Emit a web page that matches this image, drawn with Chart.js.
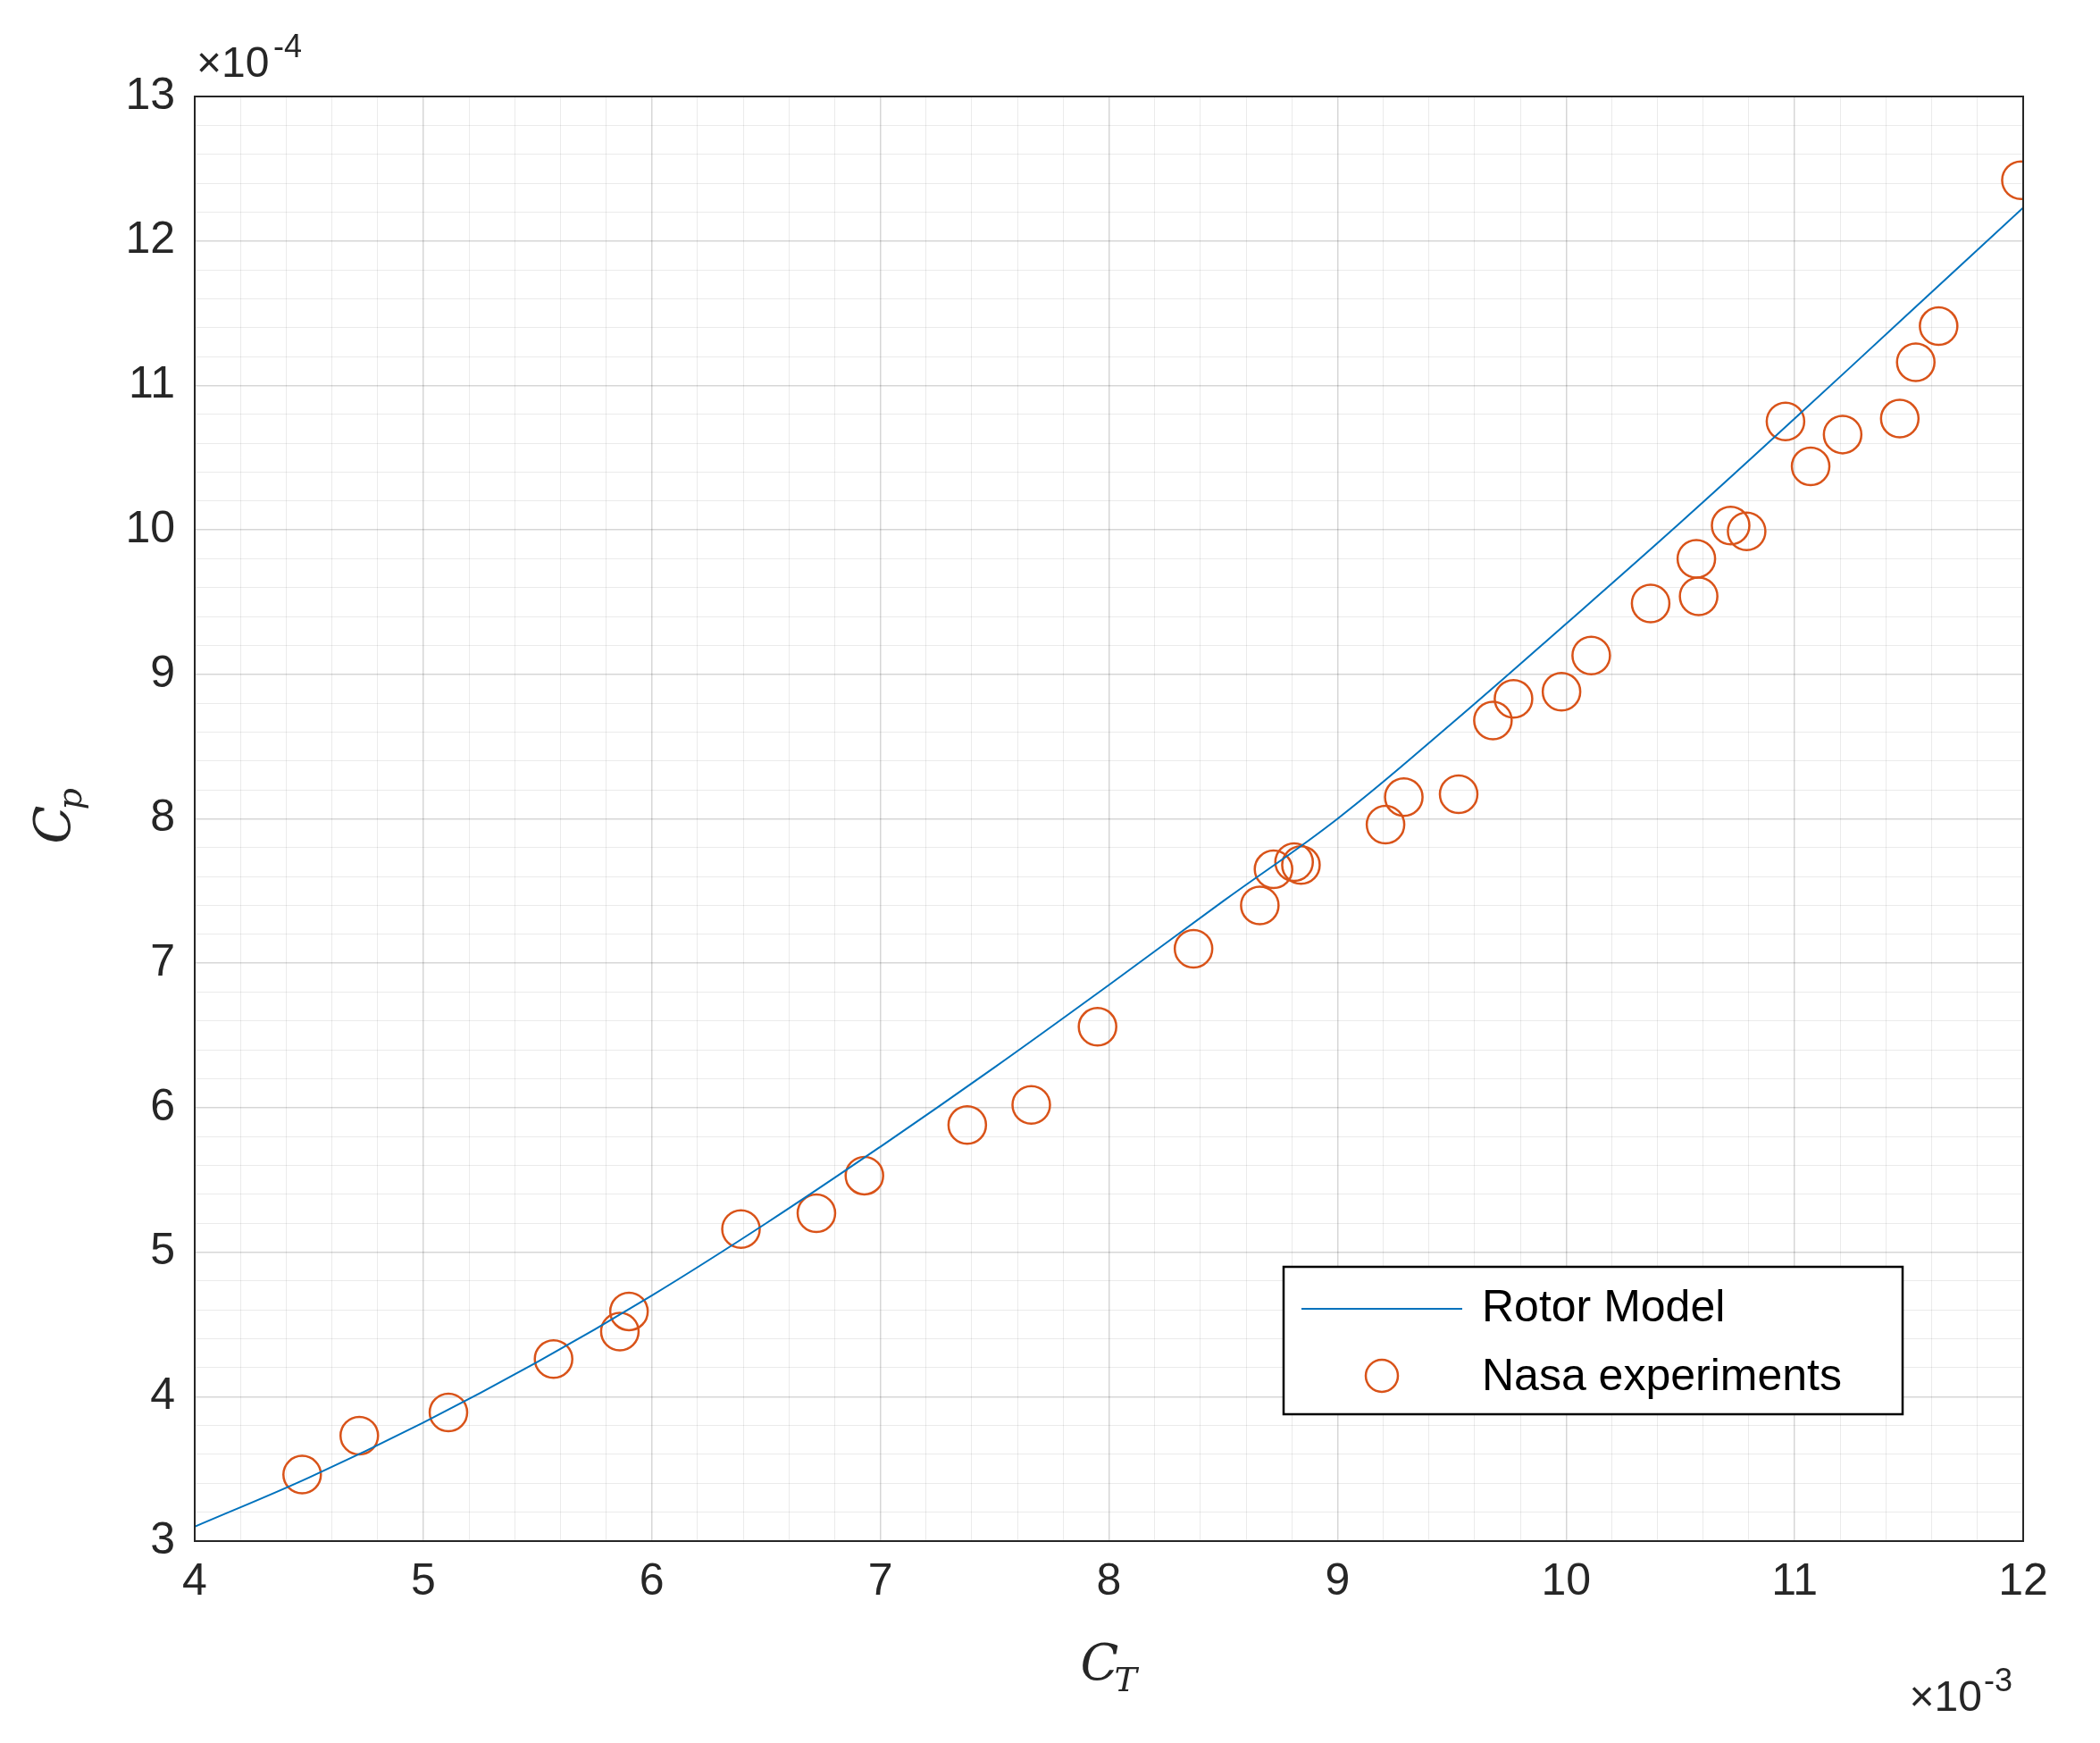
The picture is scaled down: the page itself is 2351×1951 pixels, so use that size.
<!DOCTYPE html>
<html><head><meta charset="utf-8">
<script src="https://cdn.jsdelivr.net/npm/chart.js@4/dist/chart.umd.min.js"></script>
<style>html,body{margin:0;background:#fff}#w{width:2351px;height:1951px}</style>
</head><body><div id="w"><canvas id="c"></canvas></div>
<script>
const modelCT=[4,4.5,5,5.5,6,6.5,7,7.5,8,8.5,9,9.5,10,10.5,11,11.5,12];
const modelCp=[3.10,3.44,3.82,4.24,4.70,5.20,5.73,6.28,6.85,7.43,8.00,8.66,9.35,10.05,10.77,11.50,12.23];
const expCT=[4.47,4.72,5.11,5.57,5.86,5.90,6.39,6.72,6.93,7.38,7.66,7.95,8.37,8.66,8.72,8.81,8.84,9.21,9.29,9.53,9.68,9.77,9.98,10.11,10.37,10.57,10.58,10.72,10.79,10.96,11.07,11.21,11.46,11.53,11.63,11.99];
const expCp=[3.46,3.73,3.89,4.26,4.45,4.59,5.16,5.27,5.53,5.88,6.02,6.56,7.10,7.40,7.65,7.70,7.68,7.96,8.15,8.17,8.68,8.83,8.88,9.13,9.49,9.80,9.54,10.03,9.99,10.75,10.44,10.66,10.77,11.16,11.41,12.42];
const seriesNames=['Rotor Model','Nasa experiments'];
const blue='#0072BD', red='#D95319', axc='#262626';
const isInt=v=>Math.abs(v-Math.round(v))<1e-6;
const deco={id:'deco',afterDraw(ch){
  const c=ch.ctx,a=ch.chartArea;c.save();
  c.strokeStyle=axc;c.lineWidth=2;c.strokeRect(a.left,a.top,a.right-a.left,a.bottom-a.top);
  c.fillStyle=axc;c.font='48px "Liberation Sans",Arial';
  c.textBaseline='alphabetic';c.textAlign='left';
  c.fillText('\u00d710',a.left+2,a.top-22);c.font='36px "Liberation Sans",Arial';c.fillText('-4',a.left+88,a.top-44);
  c.font='48px "Liberation Sans",Arial';c.textAlign='right';
  c.fillText('\u00d710',a.right-46,a.bottom+190);c.font='36px "Liberation Sans",Arial';c.textAlign='left';c.fillText('-3',a.right-44,a.bottom+168);
  c.font='italic 56px "DejaVu Serif",serif';c.textAlign='left';
  const cx=(a.left+a.right)/2;c.fillText('C',cx-32,a.bottom+155);c.font='italic 38px "DejaVu Serif",serif';c.fillText('T',cx+6,a.bottom+168);
  c.translate(78,(a.top+a.bottom)/2);c.rotate(-Math.PI/2);
  c.font='italic 56px "DejaVu Serif",serif';c.fillText('C',-28,0);c.font='italic 38px "DejaVu Serif",serif';c.fillText('p',10,13);
  c.setTransform(1,0,0,1,0,0);
  const lx=1437,ly=1418,lw=693,lh=165;
  c.fillStyle='#fff';c.fillRect(lx,ly,lw,lh);c.strokeStyle='#000';c.lineWidth=2.5;c.strokeRect(lx,ly,lw,lh);
  c.strokeStyle=blue;c.lineWidth=2;c.beginPath();c.moveTo(lx+20,ly+47);c.lineTo(lx+200,ly+47);c.stroke();
  c.strokeStyle=red;c.lineWidth=2.5;c.beginPath();c.arc(lx+110,ly+122,18,0,2*Math.PI);c.stroke();
  c.fillStyle='#000';c.font='50px "Liberation Sans",Arial';c.textBaseline='middle';
  c.fillText(seriesNames[0],lx+222,ly+47);c.fillText(seriesNames[1],lx+222,ly+124);
  c.restore();}};
const gridColor=ctx=>isInt(ctx.tick.value)?'rgba(0,0,0,0.16)':'rgba(0,0,0,0.08)';
new Chart(document.getElementById('c'),{
 type:'scatter',
 data:{datasets:[
  {label:seriesNames[0],type:'line',data:modelCT.map((x,i)=>({x,y:modelCp[i]})),borderColor:blue,borderWidth:2,pointRadius:0,tension:0.4,fill:false},
  {label:seriesNames[1],data:expCT.map((x,i)=>({x,y:expCp[i]})),borderColor:red,backgroundColor:'rgba(0,0,0,0)',pointRadius:21,pointBorderWidth:2.5}
 ]},
 plugins:[deco],
 options:{responsive:true,maintainAspectRatio:false,animation:false,devicePixelRatio:1,
  layout:{padding:{left:60,right:86,top:108,bottom:156}},
  plugins:{legend:{display:false},tooltip:{enabled:false}},
  scales:{
   x:{type:'linear',min:4,max:12,border:{display:false},afterFit:s=>{s.height=70;},
      ticks:{stepSize:0.2,autoSkip:false,maxRotation:0,color:axc,font:{size:50,family:'"Liberation Sans",Arial'},padding:16,callback:v=>isInt(v)?String(Math.round(v)):''},
      grid:{drawTicks:false,color:gridColor,lineWidth:ctx=>isInt(ctx.tick.value)?1.5:1}},
   y:{type:'linear',min:3,max:13,border:{display:false},afterFit:s=>{s.width=158;},
      ticks:{stepSize:0.2,autoSkip:false,color:axc,font:{size:50,family:'"Liberation Sans",Arial'},padding:22,callback:v=>isInt(v)?String(Math.round(v)):''},
      grid:{drawTicks:false,color:gridColor,lineWidth:ctx=>isInt(ctx.tick.value)?1.5:1}}
  }}});
</script></body></html>
